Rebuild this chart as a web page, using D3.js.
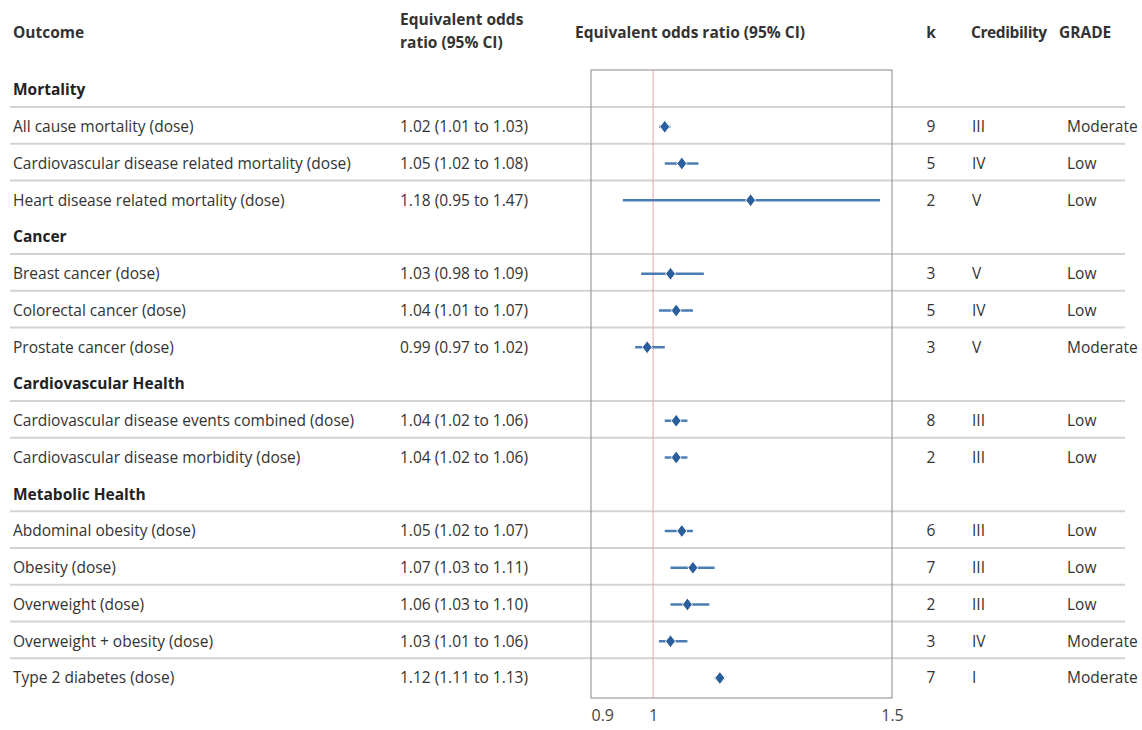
<!DOCTYPE html>
<html>
<head>
<meta charset="utf-8">
<script src="https://cdn.jsdelivr.net/npm/d3@7"></script>
<style>
body{margin:0;background:#fff;}
text{font-family:"Open Sans",sans-serif;fill:#333;}
</style>
</head>
<body>
<div class="box"></div>
<script>
// data
const groups=['Mortality','Cancer','Cardiovascular Health','Metabolic Health'];
const outcomes=['All cause mortality (dose)','Cardiovascular disease related mortality (dose)','Heart disease related mortality (dose)',
  'Breast cancer (dose)','Colorectal cancer (dose)','Prostate cancer (dose)',
  'Cardiovascular disease events combined (dose)','Cardiovascular disease morbidity (dose)',
  'Abdominal obesity (dose)','Obesity (dose)','Overweight (dose)','Overweight + obesity (dose)','Type 2 diabetes (dose)'];
const groupOf=[0,0,0,1,1,1,2,2,3,3,3,3,3];
const oddsRatio=[1.02,1.05,1.18,1.03,1.04,0.99,1.04,1.04,1.05,1.07,1.06,1.03,1.12];
const ciLow=[1.01,1.02,0.95,0.98,1.01,0.97,1.02,1.02,1.02,1.03,1.03,1.01,1.11];
const ciHigh=[1.03,1.08,1.47,1.09,1.07,1.02,1.06,1.06,1.07,1.11,1.10,1.06,1.13];
const kStudies=[9,5,2,3,5,3,8,2,6,7,2,3,7];
const credibility=['III','IV','V','V','IV','V','III','III','III','III','III','IV','I'];
const grade=['Moderate','Low','Low','Low','Low','Moderate','Low','Low','Low','Low','Low','Moderate','Moderate'];
const tickVals=[0.9,1,1.5];

const W=1142,H=730;
const svg=d3.select('.box').append('svg').attr('width',W).attr('height',H).style('background','white');

// build row list: group header then its outcomes
const rows=[];
groups.forEach((g,gi)=>{
  rows.push({type:'group',label:g});
  const idx=outcomes.map((o,i)=>i).filter(i=>groupOf[i]===gi);
  idx.forEach((i,j)=>rows.push({type:'item',i:i,last:j===idx.length-1}));
});

const y=d3.scalePoint().domain(d3.range(rows.length)).range([90,678]);
const x=d3.scaleLog().domain([0.9,1.5]).range([591,892]);
const boxTop=70,boxBot=698;
const fs=15.5;

// headers
const hdr=svg.append('g').style('font-weight','bold').style('font-size',fs+'px');
hdr.append('text').attr('x',13).attr('y',33).attr('dy','0.35em').text('Outcome');
hdr.append('text').attr('x',400).attr('y',20).attr('dy','0.35em').text('Equivalent odds');
hdr.append('text').attr('x',400).attr('y',43).attr('dy','0.35em').text('ratio (95% CI)');
hdr.append('text').attr('x',575).attr('y',33).attr('dy','0.35em').text('Equivalent odds ratio (95% CI)');
hdr.append('text').attr('x',931).attr('y',33).attr('dy','0.35em').attr('text-anchor','middle').text('k');
hdr.append('text').attr('x',971).attr('y',33).attr('dy','0.35em').style('letter-spacing','-0.4px').text('Credibility');
hdr.append('text').attr('x',1059).attr('y',33).attr('dy','0.35em').text('GRADE');

// separator lines
svg.append('g').selectAll('line')
  .data(rows.map((r,i)=>({r,i})).filter(d=>d.r.type==='group'||!d.r.last))
  .enter().append('line')
  .attr('x1',10).attr('x2',1125)
  .attr('y1',d=>y(d.i)+17).attr('y2',d=>y(d.i)+17)
  .attr('stroke','#d3d3d3').attr('stroke-width',1.8);

// plot box and reference line
svg.append('rect').attr('x',x(0.9)).attr('y',boxTop).attr('width',x(1.5)-x(0.9)).attr('height',boxBot-boxTop)
  .attr('fill','none').attr('stroke','#8a8a8a').attr('stroke-width',1);
svg.append('line').attr('x1',x(1)).attr('x2',x(1)).attr('y1',boxTop).attr('y2',boxBot)
  .attr('stroke','#e9a7a7').attr('stroke-width',1);

const rowG=svg.append('g').selectAll('g').data(rows).enter().append('g')
  .attr('transform',(d,i)=>`translate(0,${y(i)})`).style('font-size',fs+'px');

rowG.filter(d=>d.type==='group').append('text').attr('x',13).attr('dy','0.35em')
  .style('font-weight','bold').style('fill','#222').text(d=>d.label);

const items=rowG.filter(d=>d.type==='item');
items.append('text').attr('x',13).attr('dy','0.35em').text(d=>outcomes[d.i]);
items.append('text').attr('x',400).attr('dy','0.35em')
  .text(d=>`${oddsRatio[d.i].toFixed(2)} (${ciLow[d.i].toFixed(2)} to ${ciHigh[d.i].toFixed(2)})`);
items.append('text').attr('x',931).attr('dy','0.35em').attr('text-anchor','middle').text(d=>kStudies[d.i]);
items.append('text').attr('x',972).attr('dy','0.35em').text(d=>credibility[d.i]);
items.append('text').attr('x',1067).attr('dy','0.35em').text(d=>grade[d.i]);

// CI lines and diamonds
items.append('line').attr('x1',d=>x(ciLow[d.i])).attr('x2',d=>x(ciHigh[d.i]))
  .attr('stroke','#4a7db3').attr('stroke-width',2.5);
items.append('path')
  .attr('d',d=>{const cx=x(oddsRatio[d.i]);return `M${cx},-6.5L${cx+5},0L${cx},6.5L${cx-5},0Z`;})
  .attr('fill','#2b5e9c').attr('stroke','white').attr('stroke-width',1);

// axis
const axis=d3.axisBottom(x).tickValues(tickVals).tickFormat(d3.format('')).tickSize(0).tickPadding(12);
const gX=svg.append('g').attr('transform',`translate(0,${boxBot})`).call(axis);
gX.select('.domain').remove();
gX.selectAll('text').style('font-family','"Open Sans",sans-serif').style('font-size','16px').style('fill','#444')
  .attr('text-anchor',d=>d===0.9?'start':'middle');
</script>
</body>
</html>
